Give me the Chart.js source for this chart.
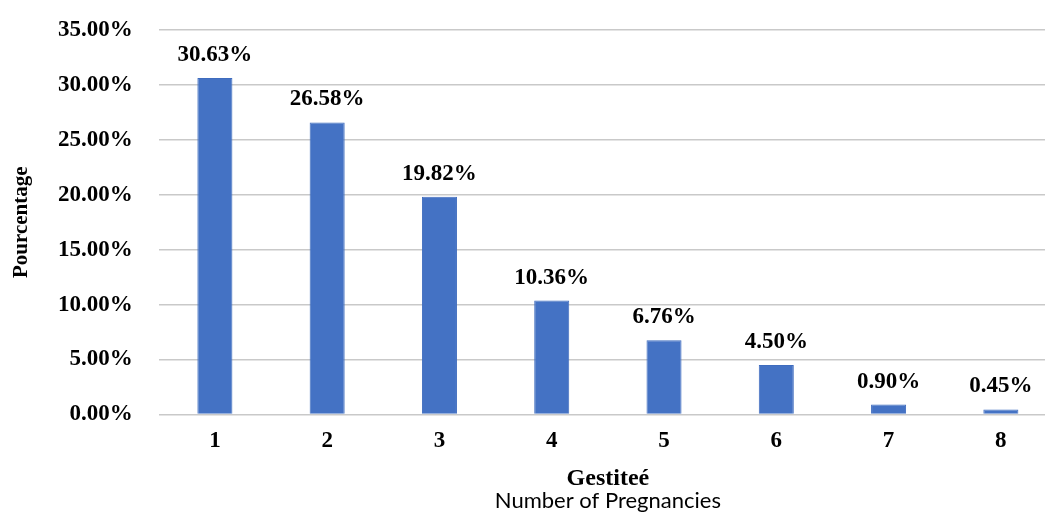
<!DOCTYPE html>
<html>
<head>
<meta charset="utf-8">
<script src="https://cdn.jsdelivr.net/npm/chart.js@4/dist/chart.umd.min.js"></script>
<style>
  html, body { margin: 0; padding: 0; background: #ffffff; overflow: hidden; }
  #wrap { position: relative; width: 1060px; height: 512px; }
</style>
</head>
<body>
<div id="wrap"><canvas id="c"></canvas></div>
<script>
// Gestité: number of pregnancies and share of women (%)
const categories = ['1', '2', '3', '4', '5', '6', '7', '8'];
const percentages = [30.63, 26.58, 19.82, 10.36, 6.76, 4.50, 0.90, 0.45];
const yTicks = [0, 5, 10, 15, 20, 25, 30, 35];
const xTitle = 'Gestiteé';
const xSubtitle = 'Number of Pregnancies';

const serif = '"Liberation Serif", "Times New Roman", serif';

// Value labels above each bar, plus the two-line x-axis title
const labelsPlugin = {
  id: 'barValueLabels',
  afterDatasetsDraw(chart) {
    const ctx = chart.ctx;
    const meta = chart.getDatasetMeta(0);
    ctx.save();
    ctx.font = 'bold 23px ' + serif;
    ctx.fillStyle = '#000000';
    ctx.textAlign = 'center';
    ctx.textBaseline = 'alphabetic';
    meta.data.forEach((bar, i) => {
      ctx.fillText(percentages[i].toFixed(2) + '%', bar.x, bar.y - 17);
    });
    const area = chart.chartArea;
    const cx = (area.left + area.right) / 2;
    ctx.font = 'bold 24px ' + serif;
    ctx.fillText(xTitle, cx, 485);
    ctx.font = '22px Lato, "Liberation Sans", sans-serif';
    ctx.fillText(xSubtitle, cx, 508);
    ctx.restore();
  }
};

new Chart(document.getElementById('c'), {
  type: 'bar',
  data: {
    labels: categories,
    datasets: [{
      data: percentages,
      backgroundColor: '#4472C4',
      borderColor: '#3F6CBE',
      borderWidth: 1,
      categoryPercentage: 1,
      barPercentage: 0.312
    }]
  },
  options: {
    responsive: true,
    maintainAspectRatio: false,
    animation: false,
    layout: { padding: { left: 4, right: 3, top: 30, bottom: 44 } },
    plugins: {
      legend: { display: false },
      tooltip: { enabled: false }
    },
    scales: {
      x: {
        grid: { display: false, drawTicks: false },
        border: { display: false },
        ticks: {
          padding: 13,
          color: '#000000',
          font: { family: serif, size: 23, weight: 'bold' }
        }
      },
      y: {
        min: 0,
        max: 35,
        afterBuildTicks(scale) {
          scale.ticks = yTicks.map(v => ({ value: v }));
        },
        // keep the outer tick labels from pushing the plot area inward
        afterFit(scale) {
          scale.paddingTop = 0;
          scale.paddingBottom = 0;
        },
        grid: { color: '#c9c9c9', lineWidth: 1.5, drawTicks: false },
        border: { display: false },
        ticks: {
          padding: 26,
          color: '#000000',
          font: { family: serif, size: 23, weight: 'bold' },
          callback: v => Number(v).toFixed(2) + '%'
        },
        title: {
          display: true,
          text: 'Pourcentage',
          color: '#000000',
          padding: { top: 7, bottom: 0 },
          font: { family: serif, size: 21, weight: 'bold', lineHeight: 1.0 }
        }
      }
    }
  },
  plugins: [labelsPlugin]
});
</script>
</body>
</html>
